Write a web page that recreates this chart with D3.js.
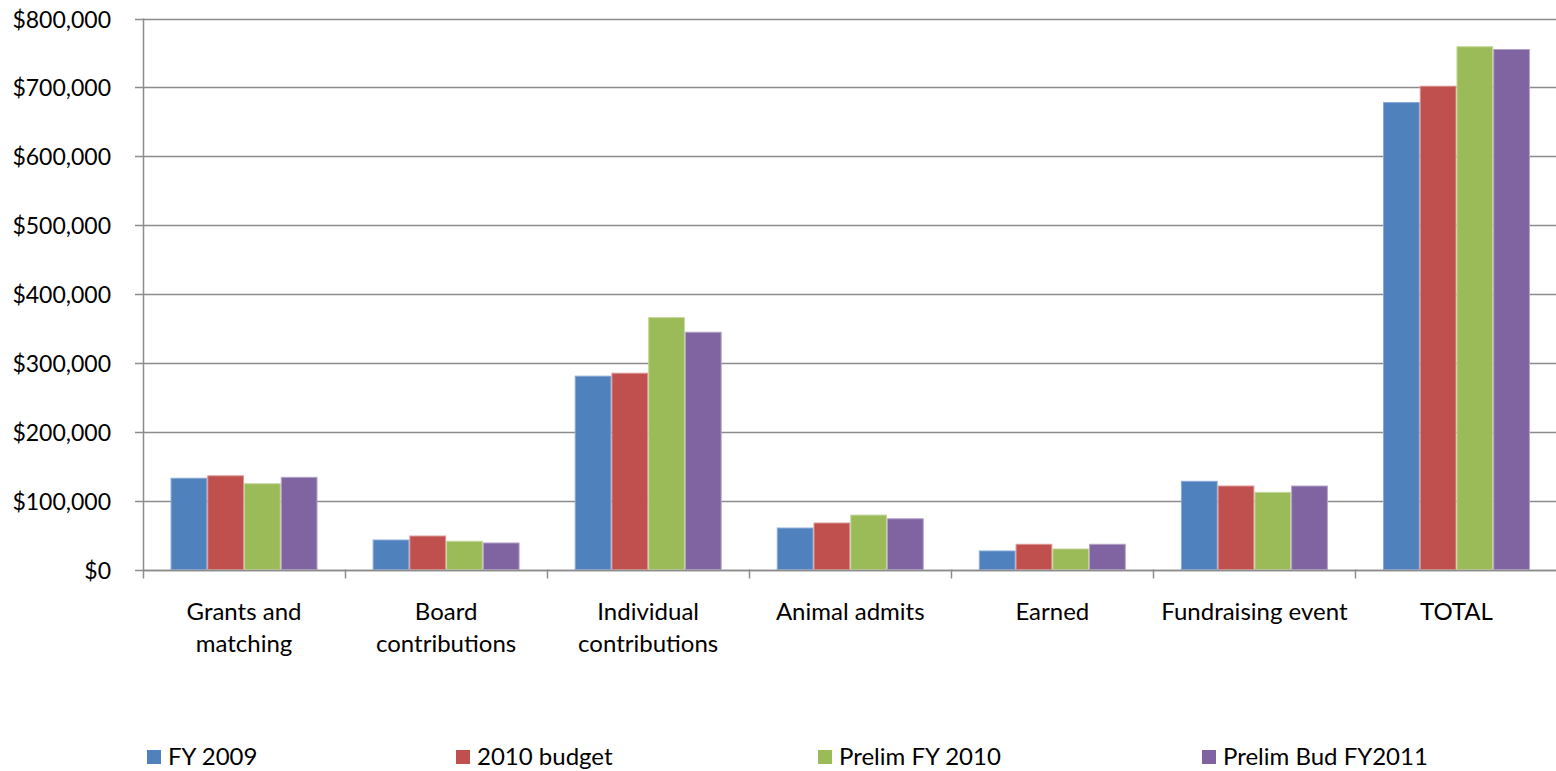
<!DOCTYPE html>
<html>
<head>
<meta charset="utf-8">
<script src="https://cdn.jsdelivr.net/npm/d3@7"></script>
<style>
  html, body { margin: 0; padding: 0; background: #fff; }
  svg { display: block; }
  text { font-family: Lato, "Open Sans", sans-serif; fill: #000; }
</style>
</head>
<body>
<svg id="chart" width="1556" height="771"></svg>
<script>
// ---- data ----
const categories = ["Grants and matching", "Board contributions", "Individual contributions", "Animal admits", "Earned", "Fundraising event", "TOTAL"];
const categoryLines = [["Grants and", "matching"], ["Board", "contributions"], ["Individual", "contributions"], ["Animal admits"], ["Earned"], ["Fundraising event"], ["TOTAL"]];
const seriesNames = ["FY 2009", "2010 budget", "Prelim FY 2010", "Prelim Bud FY2011"];
const fy2009      = [132500, 42800, 280700, 60200, 26900, 128000, 678000];
const budget2010  = [136000, 48600, 285000, 67500, 36600, 121200, 701700];
const prelim2010  = [124500, 41000, 365700, 79000, 29800, 112000, 759000];
const prelimBud11 = [133800, 38500, 344500, 73700, 36600, 121200, 755000];
const yTicks = [0, 100000, 200000, 300000, 400000, 500000, 600000, 700000, 800000];
const colors = ["#4F81BD", "#C0504D", "#9BBB59", "#8064A2"];
const strokeColors = ["#8AA9D6", "#D99694", "#C3D69B", "#B3A2C7"];

const seriesValues = [fy2009, budget2010, prelim2010, prelimBud11];

// ---- layout ----
const plotLeft = 143, plotRight = 1557.5, plotTop = 18.5, plotBottom = 569.5;
const legendX = [147, 456, 818, 1202];
const legendY = 757;

const svg = d3.select("#chart");

const x0 = d3.scaleBand().domain(categories).range([plotLeft, plotRight]).paddingInner(0).paddingOuter(0);
// Excel gap width 150%: band = 4w + 1.5w
const x1 = d3.scaleBand().domain(seriesNames)
  .range([x0.bandwidth() * 0.75 / 5.5, x0.bandwidth() - x0.bandwidth() * 0.75 / 5.5])
  .paddingInner(0).paddingOuter(0);
const y = d3.scaleLinear().domain([0, 800000]).range([plotBottom, plotTop]);

// gridlines
svg.append("g")
  .selectAll("line")
  .data(yTicks)
  .join("line")
  .attr("x1", plotLeft - 8).attr("x2", 1556)
  .attr("y1", d => Math.round(y(d)) + 0.5).attr("y2", d => Math.round(y(d)) + 0.5)
  .attr("stroke", "#8c8c8c").attr("stroke-width", 1.3);

// y axis labels
const fmt = d => "$" + d3.format(",")(d);
svg.append("g")
  .selectAll("text")
  .data(yTicks)
  .join("text")
  .attr("x", plotLeft - 32)
  .attr("y", d => Math.round(y(d)) + 0.5)
  .attr("dy", "0.35em")
  .attr("text-anchor", "end")
  .attr("font-size", 23)
  .text(fmt);

// bars
const groups = svg.append("g")
  .selectAll("g")
  .data(categories)
  .join("g")
  .attr("transform", d => `translate(${x0(d)},0)`);

groups.selectAll("rect")
  .data((d, i) => seriesNames.map((s, j) => ({ s, j, v: seriesValues[j][i] })))
  .join("rect")
  .attr("x", d => x1(d.s) + 0.5)
  .attr("width", x1.bandwidth() - 1)
  .attr("y", d => y(d.v))
  .attr("height", d => plotBottom - y(d.v))
  .attr("fill", d => colors[d.j])
  .attr("stroke", d => strokeColors[d.j])
  .attr("stroke-width", 1);

// y axis line
svg.append("line")
  .attr("x1", plotLeft + 0.5).attr("x2", plotLeft + 0.5)
  .attr("y1", plotTop).attr("y2", plotBottom + 0.5)
  .attr("stroke", "#8c8c8c").attr("stroke-width", 1.5);

// x axis line
svg.append("line")
  .attr("x1", plotLeft).attr("x2", 1556)
  .attr("y1", Math.round(plotBottom) + 0.5).attr("y2", Math.round(plotBottom) + 0.5)
  .attr("stroke", "#8c8c8c").attr("stroke-width", 1.5);

// x ticks at category boundaries
const boundaries = categories.map(c => x0(c)).concat([plotRight]);
svg.append("g")
  .selectAll("line")
  .data(boundaries)
  .join("line")
  .attr("x1", d => Math.round(d) + 0.5).attr("x2", d => Math.round(d) + 0.5)
  .attr("y1", plotBottom).attr("y2", plotBottom + 9)
  .attr("stroke", "#8c8c8c").attr("stroke-width", 1.5);

// category labels
const catLabels = svg.append("g")
  .selectAll("text")
  .data(categories)
  .join("text")
  .attr("x", d => x0(d) + x0.bandwidth() / 2)
  .attr("y", 612)
  .attr("text-anchor", "middle")
  .attr("font-size", 24);
catLabels.each(function(d, i) {
  const t = d3.select(this);
  categoryLines[i].forEach((line, k) => {
    t.append("tspan")
      .attr("x", x0(d) + x0.bandwidth() / 2)
      .attr("y", 612 + k * 32)
      .attr("dy", "0.35em")
      .text(line);
  });
});

// legend
const legend = svg.append("g")
  .selectAll("g")
  .data(seriesNames)
  .join("g")
  .attr("transform", (d, i) => `translate(${legendX[i]},${legendY})`);
legend.append("rect")
  .attr("x", 0).attr("y", -7).attr("width", 14).attr("height", 14)
  .attr("fill", (d, i) => colors[i]);
legend.append("text")
  .attr("x", 21).attr("y", 0).attr("dy", "0.35em")
  .attr("font-size", 24)
  .text(d => d);
</script>
</body>
</html>
